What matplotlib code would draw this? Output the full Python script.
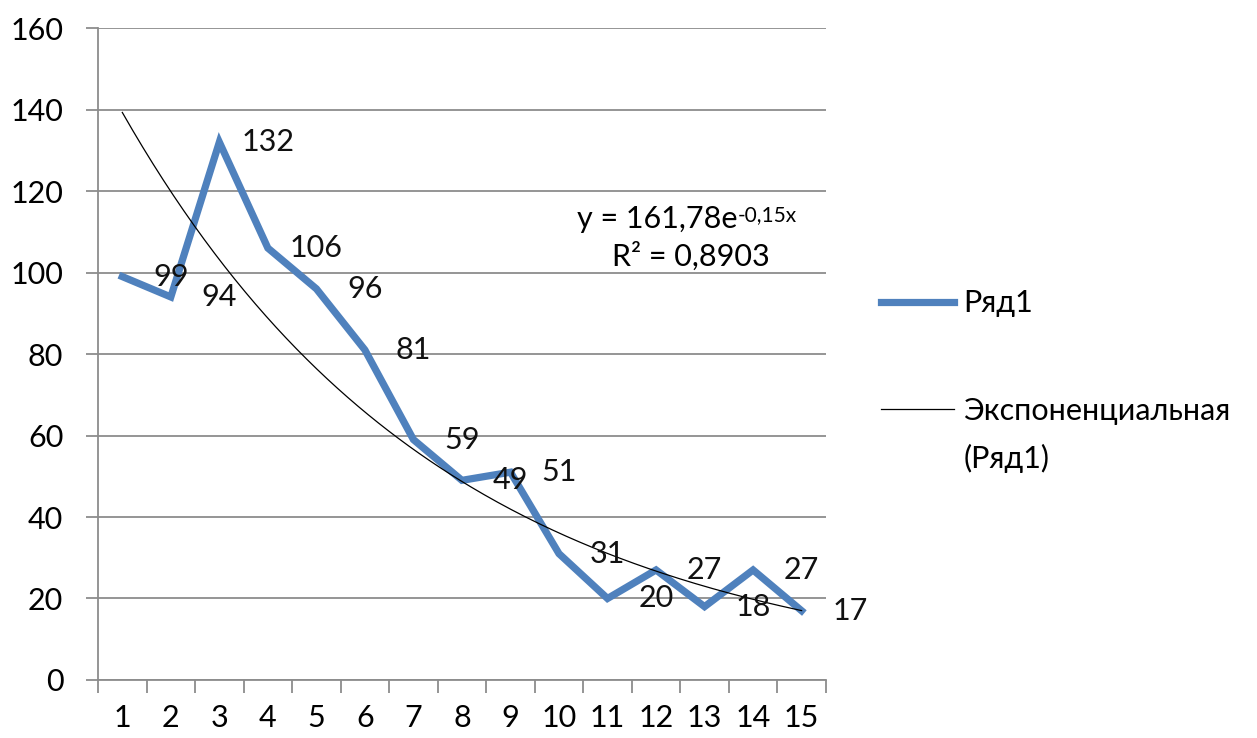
import numpy as np
import matplotlib
matplotlib.use('Agg')
from matplotlib import pyplot as plt, ticker

plt.rcParams['font.family'] = ['Lato', 'DejaVu Sans']

# data
x = list(range(1, 16))
values = [99, 94, 132, 106, 96, 81, 59, 49, 51, 31, 20, 27, 18, 27, 17]
series_name = 'Ряд1'
trend_name = 'Экспоненциальная'
trend_name2 = '(Ряд1)'
eq_main = 'y = 161,78e'
eq_sup = '-0,15x'
r2_text = 'R² = 0,8903'

blue = '#4F81BD'
grid_c = '#8c8c8c'
fs = 22

fig = plt.figure(figsize=(12.57, 7.38), dpi=100)
ax = fig.add_axes([0.078, 0.0786, 0.579, 0.8834])

# exponential trend line (least squares on log values, like Excel)
b, lna = np.polyfit(x, np.log(values), 1)
xt = np.linspace(1, 15, 200)
yt = np.exp(lna) * np.exp(b * xt)

ax.plot(x, values, color=blue, lw=5.2, solid_joinstyle='miter', label=series_name, zorder=3)
ax.plot(xt, yt, color='black', lw=0.9, label=trend_name, zorder=4)

# data labels, right of points
for xi, v in zip(x, values):
    ax.annotate(str(v), (xi, v), xytext=(35, 0), textcoords='offset points',
                ha='center', va='center', fontsize=fs, color='#111111', zorder=5)

t1 = ax.text(0.658, 0.707, eq_main, transform=ax.transAxes, ha='left', va='center', fontsize=fs)
ax.annotate(eq_sup, xy=(1.0, 1.0), xycoords=t1, ha='left', va='top', fontsize=15)
ax.text(0.815, 0.65, r2_text, transform=ax.transAxes, ha='center', va='center', fontsize=fs)

ax.set_xlim(0.5, 15.5)
ax.set_ylim(0, 160)
ax.yaxis.set_major_locator(ticker.MultipleLocator(20))
ax.set_xticks(x)
ax.set_xticks(np.arange(0.5, 15.6, 1), minor=True)
ax.tick_params(axis='x', which='major', length=0, pad=17, labelsize=fs)
ax.tick_params(axis='x', which='minor', length=9, width=1.3, color=grid_c, direction='out')
ax.tick_params(axis='y', length=9, width=1.3, color=grid_c, pad=16, labelsize=fs)

ax.grid(axis='y', color=grid_c, lw=1.3)
ax.set_axisbelow(True)
for s in ['top', 'right']:
    ax.spines[s].set_visible(False)
for s in ['left', 'bottom']:
    ax.spines[s].set_color(grid_c)
    ax.spines[s].set_linewidth(1.3)

leg = fig.legend(loc='upper left', bbox_to_anchor=(0.679, 0.645), frameon=False,
                 fontsize=fs, handlelength=2.4, handletextpad=0.3, labelspacing=2.6)

# second line of the trend label, under its first line
fig.canvas.draw()
bb = leg.get_texts()[1].get_window_extent()
fig.text(bb.x0 / fig.bbox.width, (bb.y0 - 48) / fig.bbox.height, trend_name2,
         ha='left', va='bottom', fontsize=fs)

fig.savefig('out.png', dpi=100)
